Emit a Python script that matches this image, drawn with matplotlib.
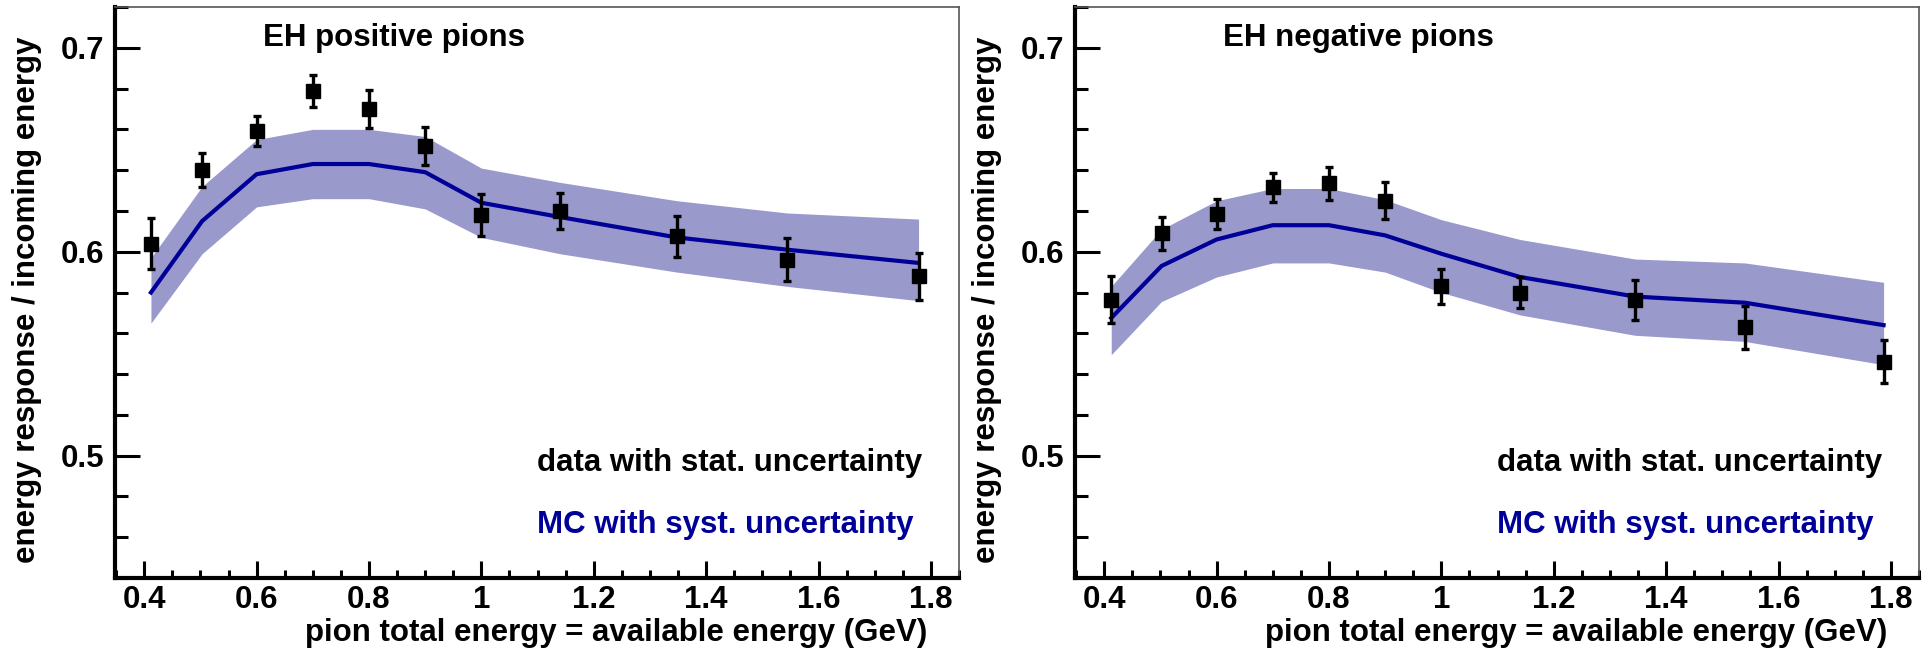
import matplotlib.pyplot as plt
from matplotlib.ticker import MultipleLocator

'''
Energy response of the EH calorimeter for positive and negative pions:
data points with statistical errors, MC line with a systematic band.
'''

# positive pions
energy_pos = [0.412, 0.503, 0.600, 0.700, 0.800, 0.900, 1.000, 1.140, 1.348, 1.544, 1.778]
data_pos = [0.604, 0.640, 0.659, 0.679, 0.670, 0.652, 0.618, 0.620, 0.6075, 0.596, 0.588]
stat_pos = [0.0125, 0.0083, 0.0074, 0.0078, 0.0092, 0.0094, 0.0103, 0.0087, 0.0099, 0.0106, 0.0115]
mc_pos = [0.580, 0.615, 0.638, 0.643, 0.643, 0.639, 0.624, 0.617, 0.607, 0.601, 0.5945]
mc_pos_hi = [0.597, 0.632, 0.655, 0.660, 0.660, 0.6565, 0.641, 0.634, 0.625, 0.619, 0.616]
mc_pos_lo = [0.565, 0.599, 0.622, 0.626, 0.626, 0.621, 0.607, 0.599, 0.590, 0.583, 0.576]

# negative pions
energy_neg = [0.4125, 0.502, 0.600, 0.700, 0.800, 0.900, 1.000, 1.140, 1.345, 1.540, 1.787]
data_neg = [0.5765, 0.609, 0.6185, 0.6315, 0.6335, 0.625, 0.583, 0.580, 0.5765, 0.563, 0.546]
stat_neg = [0.0115, 0.008, 0.0072, 0.0071, 0.0082, 0.0092, 0.0087, 0.0075, 0.0098, 0.0106, 0.0106]
mc_neg = [0.5675, 0.593, 0.606, 0.613, 0.613, 0.608, 0.599, 0.5876, 0.578, 0.575, 0.564]
mc_neg_hi = [0.583, 0.611, 0.625, 0.631, 0.631, 0.6255, 0.6157, 0.606, 0.5964, 0.5945, 0.585]
mc_neg_lo = [0.5495, 0.5756, 0.5876, 0.5945, 0.5945, 0.590, 0.580, 0.569, 0.559, 0.556, 0.5446]

titles = ['EH positive pions', 'EH negative pions']

plt.rcParams['font.family'] = ['Liberation Sans', 'DejaVu Sans']
plt.rcParams['font.weight'] = 'bold'
FS = 22.5
BAND = '#9999cc'
MC_BLUE = '#000099'


def draw_panel(ax, x, data, stat, mc, mc_hi, mc_lo, title):
    # MC band and central line
    ax.fill_between(x, mc_lo, mc_hi, color=BAND, lw=0, zorder=1)
    ax.plot(x, mc, color=MC_BLUE, lw=3, zorder=2)

    # data with stat. errors
    ax.errorbar(x, data, yerr=stat, fmt='s', color='black', ms=9.5,
                elinewidth=2.4, capsize=3, capthick=2.4, zorder=3)

    ax.set_xlim(0.348, 1.85)
    ax.set_ylim(0.44, 0.72)
    ax.xaxis.set_major_locator(MultipleLocator(0.2))
    ax.xaxis.set_minor_locator(MultipleLocator(0.05))
    ax.yaxis.set_major_locator(MultipleLocator(0.1))
    ax.yaxis.set_minor_locator(MultipleLocator(0.02))
    ax.xaxis.set_major_formatter(plt.FuncFormatter(lambda v, p: f'{v:g}'))
    ax.yaxis.set_major_formatter(plt.FuncFormatter(lambda v, p: f'{v:g}'))

    ax.tick_params(axis='both', which='both', direction='in', top=False, right=False,
                   labelsize=FS, width=2.2)
    ax.tick_params(axis='y', which='major', length=18, pad=8)
    ax.tick_params(axis='y', which='minor', length=9)
    ax.tick_params(axis='x', which='major', length=12, pad=5)
    ax.tick_params(axis='x', which='minor', length=6)

    for side in ['left', 'bottom']:
        ax.spines[side].set_linewidth(3)
    for side in ['top', 'right']:
        ax.spines[side].set_linewidth(1.2)
        ax.spines[side].set_color('#555555')

    ax.set_xlabel('pion total energy = available energy (GeV)', fontsize=FS,
                  fontweight='bold', ha='right', va='bottom')
    ax.xaxis.set_label_coords(0.962, -0.123)
    ax.set_ylabel('energy response / incoming energy', fontsize=FS, fontweight='bold')
    ax.yaxis.set_label_coords(-0.086, 0.487)

    ax.text(0.175, 0.946, title, transform=ax.transAxes, fontsize=FS,
            fontweight='bold', va='center', ha='left')
    ax.text(0.5, 0.201, 'data with stat. uncertainty', transform=ax.transAxes,
            fontsize=FS, fontweight='bold', va='center', ha='left', color='black')
    ax.text(0.5, 0.093, 'MC with syst. uncertainty', transform=ax.transAxes,
            fontsize=FS, fontweight='bold', va='center', ha='left', color=MC_BLUE)


if __name__ == '__main__':
    fig = plt.figure(figsize=(19.27, 6.49), dpi=100)
    ax1 = fig.add_axes([115 / 1927, 71 / 649, 844 / 1927, 571 / 649])
    ax2 = fig.add_axes([1075 / 1927, 71 / 649, 844 / 1927, 571 / 649])

    draw_panel(ax1, energy_pos, data_pos, stat_pos, mc_pos, mc_pos_hi, mc_pos_lo, titles[0])
    draw_panel(ax2, energy_neg, data_neg, stat_neg, mc_neg, mc_neg_hi, mc_neg_lo, titles[1])

    fig.savefig('out.png', dpi=100)
